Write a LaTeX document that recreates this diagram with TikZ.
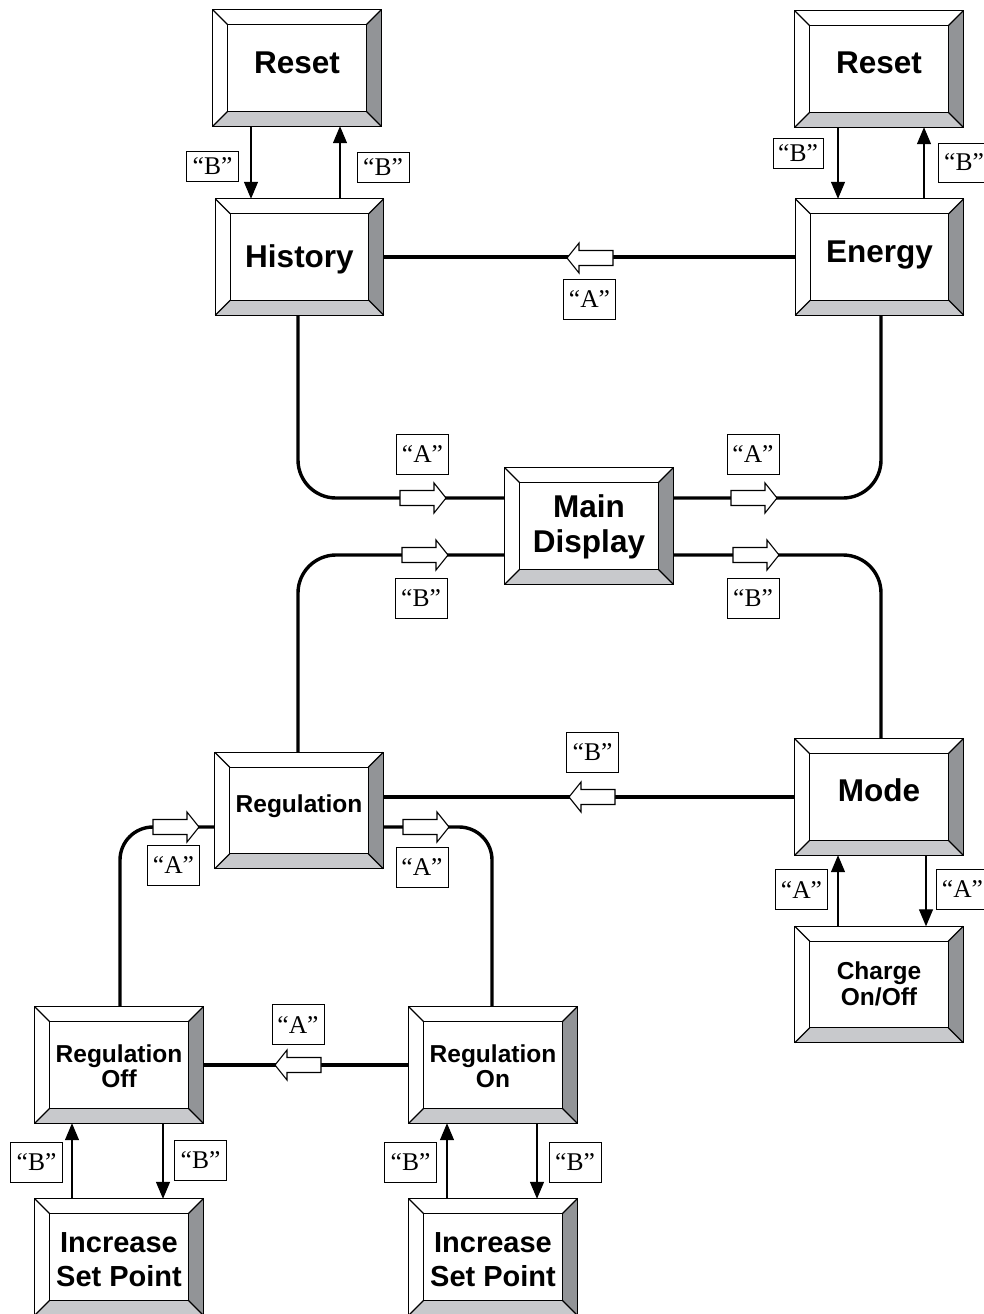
\documentclass[tikz,border=0pt]{standalone}
\usepackage{fontspec}
\setmainfont{Liberation Serif}
\newfontfamily\arialf{Liberation Sans}
\usetikzlibrary{arrows.meta,calc}
\definecolor{bevdark}{RGB}{146,148,151}
\definecolor{bevlight}{RGB}{200,201,204}
\tikzset{
 bx/.style={rectangle, minimum width=168pt, minimum height=116pt, inner sep=0pt, fill=white},
 bevline/.style={line width=1.2pt, line join=miter},
 bigt/.style={anchor=base, inner sep=0pt, font=\arialf\bfseries\fontsize{31.5}{35}\selectfont},
 midt/.style={anchor=base, inner sep=0pt, font=\arialf\bfseries\fontsize{29}{33}\selectfont},
 smallt/.style={anchor=base, inner sep=0pt, font=\arialf\bfseries\fontsize{24.5}{26}\selectfont},
 lab/.style={draw, line width=0.9pt, minimum width=52pt, minimum height=40pt, inner sep=0pt, font=\fontsize{25.5}{25.5}\selectfont},
 conn/.style={line width=3.4pt},
 tarr/.style={line width=1.3pt, -{Triangle[length=17pt,width=14pt]}},
 hol/.style={draw, fill=white, line width=1.1pt, line join=miter}
}
\newcommand\bvbox[3]{%
 \node[bx] (#1) at (#2,#3) {};
 \fill[bevdark] (#1.north east) -- (#1.south east) -- ([shift={(-15pt,15pt)}]#1.south east) -- ([shift={(-15pt,-15pt)}]#1.north east) -- cycle;
 \fill[bevlight] (#1.south west) -- (#1.south east) -- ([shift={(-15pt,15pt)}]#1.south east) -- ([shift={(15pt,15pt)}]#1.south west) -- cycle;
 \draw[bevline] (#1.north west) rectangle (#1.south east);
 \draw[bevline] ([shift={(15pt,-15pt)}]#1.north west) rectangle ([shift={(-15pt,15pt)}]#1.south east);
 \draw[bevline] (#1.north west) -- ([shift={(15pt,-15pt)}]#1.north west)
   (#1.north east) -- ([shift={(-15pt,-15pt)}]#1.north east)
   (#1.south west) -- ([shift={(15pt,15pt)}]#1.south west)
   (#1.south east) -- ([shift={(-15pt,15pt)}]#1.south east);
}
% hollow arrow: tip x, tip y, direction (1 right, -1 left)
\newcommand\hollow[3]{%
 \draw[hol] (#1,#2) -- ({#1-12*#3},{#2-15}) -- ({#1-12*#3},{#2-7.5}) -- ({#1-46*#3},{#2-7.5})
   -- ({#1-46*#3},{#2+7.5}) -- ({#1-12*#3},{#2+7.5}) -- ({#1-12*#3},{#2+15}) -- cycle;
}
\begin{document}
\begin{tikzpicture}[x=1pt,y=-1pt]
\useasboundingbox (0,0) rectangle (983,1314);
% boxes
\bvbox{rL}{297}{68}
\bvbox{hist}{299.5}{257}
\bvbox{rR}{879}{69}
\bvbox{energy}{879.5}{257}
\bvbox{main}{589}{526}
\bvbox{reg}{299}{810.5}
\bvbox{mode}{879}{797}
\bvbox{charge}{879}{984.5}
\bvbox{regoff}{119}{1065}
\bvbox{regon}{493}{1065}
\bvbox{incL}{119}{1257}
\bvbox{incR}{493}{1257}
% box texts
\node[bigt] (rLt) at (297,74) {Reset};
\node[bigt] (rRt) at (879,74) {Reset};
\node[bigt] (histt) at (299.5,267) {History};
\node[bigt] (energyt) at (879.5,262) {Energy};
\node[bigt] (maint1) at (589,517) {Main};
\node[bigt] (maint2) at (589,552) {Display};
\node[bigt] (modet) at (879,801) {Mode};
\node[smallt] (regt) at (299,812) {Regulation};
\node[smallt] (charget1) at (879,979) {Charge};
\node[smallt] (charget2) at (879,1005) {On/Off};
\node[smallt] (regofft1) at (119,1062) {Regulation};
\node[smallt] (regofft2) at (119,1087) {Off};
\node[smallt] (regont1) at (493,1062) {Regulation};
\node[smallt] (regont2) at (493,1087) {On};
\node[midt] (incLt1) at (119,1252) {Increase};
\node[midt] (incLt2) at (119,1286) {Set Point};
\node[midt] (incRt1) at (493,1252) {Increase};
\node[midt] (incRt2) at (493,1286) {Set Point};
% thick connectors
\draw[conn] (hist.east) -- (energy.west);
\draw[conn, rounded corners=38pt] ([xshift=-1.5pt]hist.south) |- ([yshift=28pt]main.west);
\draw[conn, rounded corners=38pt] ([xshift=1.5pt]energy.south) |- ([yshift=28pt]main.east);
\draw[conn, rounded corners=38pt] ([xshift=-1pt]reg.north) |- ([yshift=-29pt]main.west);
\draw[conn, rounded corners=38pt] ([xshift=2pt]mode.north) |- ([yshift=-29pt]main.east);
\draw[conn] (mode.west) -- (mode.west -| reg.east);
\draw[conn, rounded corners=33pt] ([yshift=-16.5pt]reg.west) -| ([xshift=1pt]regoff.north);
\draw[conn, rounded corners=33pt] ([yshift=-16.5pt]reg.east) -| ([xshift=-1pt]regon.north);
\draw[conn] (regon.west) -- (regoff.east);
% thin arrows
\draw[tarr] ([xshift=-46pt]rL.south) -- ([xshift=-46pt]rL.south |- hist.north);
\draw[tarr] ([xshift=40.5pt]hist.north) -- ([xshift=40.5pt]hist.north |- rL.south);
\draw[tarr] ([xshift=-41pt]rR.south) -- ([xshift=-41pt]rR.south |- energy.north);
\draw[tarr] ([xshift=44.5pt]energy.north) -- ([xshift=44.5pt]energy.north |- rR.south);
\draw[tarr] ([xshift=47pt]mode.south) -- ([xshift=47pt]mode.south |- charge.north);
\draw[tarr] ([xshift=-41pt]charge.north) -- ([xshift=-41pt]charge.north |- mode.south);
\draw[tarr] ([xshift=44pt]regoff.south) -- ([xshift=44pt]regoff.south |- incL.north);
\draw[tarr] ([xshift=-47pt]incL.north) -- ([xshift=-47pt]incL.north |- regoff.south);
\draw[tarr] ([xshift=44pt]regon.south) -- ([xshift=44pt]regon.south |- incR.north);
\draw[tarr] ([xshift=-46pt]incR.north) -- ([xshift=-46pt]incR.north |- regon.south);
% hollow arrows
\hollow{567}{258}{-1}
\hollow{446}{498}{1}
\hollow{777}{498}{1}
\hollow{448}{555}{1}
\hollow{779}{555}{1}
\hollow{569}{797}{-1}
\hollow{199}{827}{1}
\hollow{449}{827}{1}
\hollow{275}{1065}{-1}
% labels
\node[lab, minimum height=30pt] (l1) at (212.5,166) {“B”};
\node[lab, minimum height=30pt] (l2) at (383,167) {“B”};
\node[lab, minimum height=30pt, minimum width=50pt] (l3) at (798,153.5) {“B”};
\node[lab, minimum height=39pt] (l4) at (964,162.5) {“B”};
\node[lab] (l5) at (589.5,299) {“A”};
\node[lab] (l6) at (422.5,454) {“A”};
\node[lab] (l7) at (753,454) {“A”};
\node[lab] (l8) at (421,598) {“B”};
\node[lab] (l9) at (753,598) {“B”};
\node[lab] (l10) at (592.5,752.5) {“B”};
\node[lab] (l11) at (173.5,865) {“A”};
\node[lab] (l12) at (422,867) {“A”};
\node[lab] (l13) at (801.5,889.5) {“A”};
\node[lab] (l14) at (962.5,889) {“A”};
\node[lab] (l15) at (298,1024.5) {“A”};
\node[lab] (l16) at (36.5,1162) {“B”};
\node[lab] (l17) at (200.5,1160) {“B”};
\node[lab] (l18) at (410.5,1162) {“B”};
\node[lab] (l19) at (575,1162) {“B”};
\end{tikzpicture}
\end{document}
